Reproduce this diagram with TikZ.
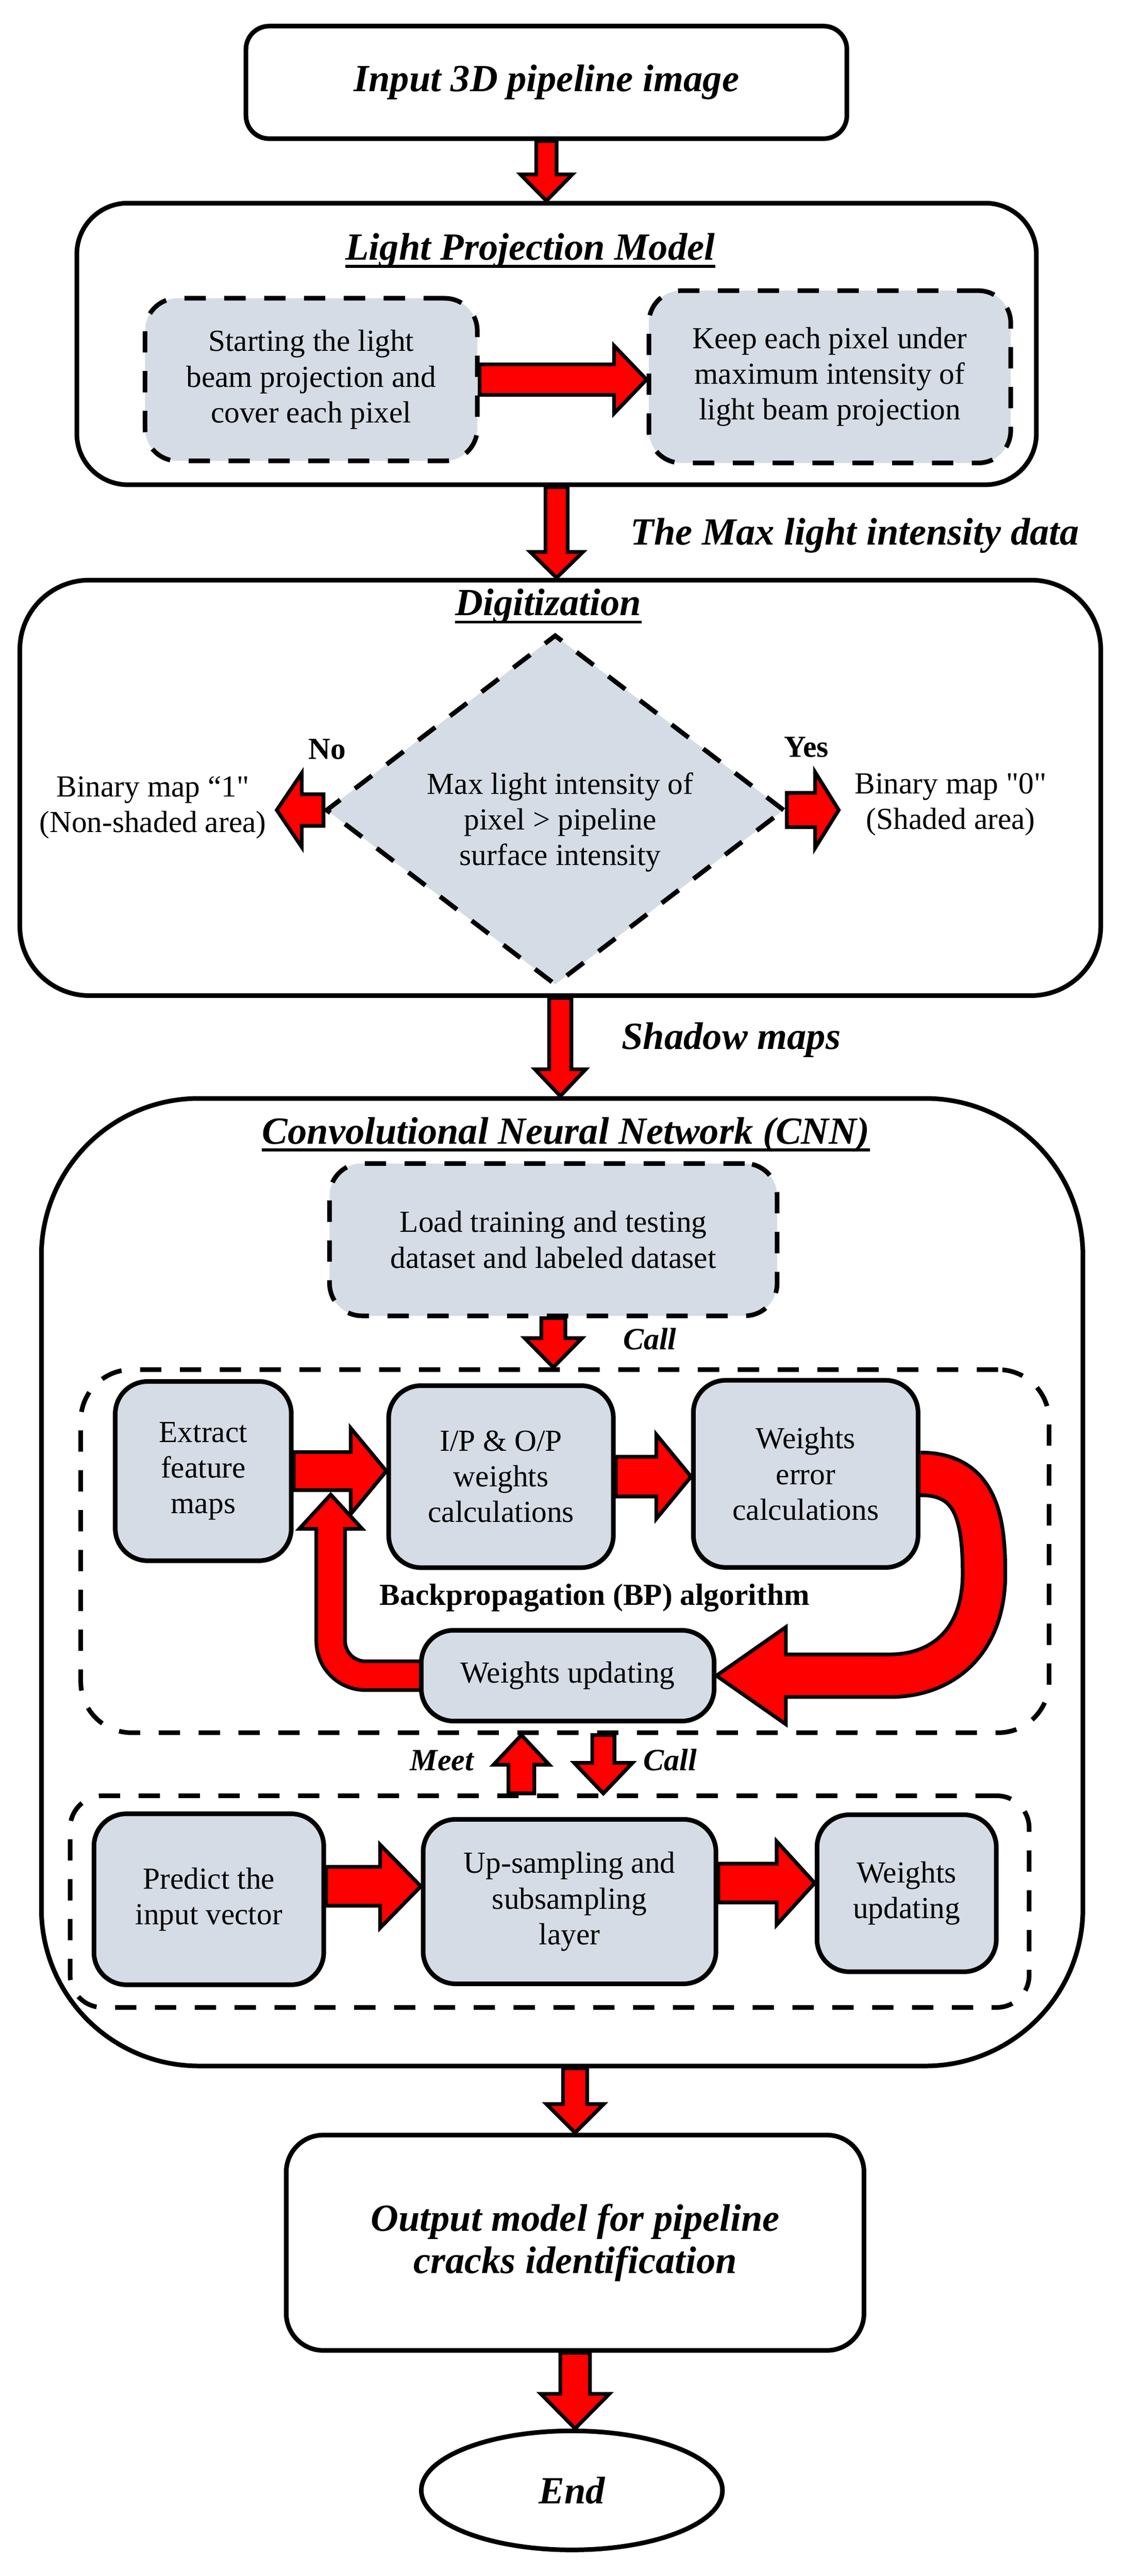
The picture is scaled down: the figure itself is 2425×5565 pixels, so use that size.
\documentclass[tikz,border=0pt]{standalone}
\usepackage{fontspec}
\setmainfont{Liberation Serif}[Ligatures=TeXOff]
\usetikzlibrary{calc,shapes.geometric}
\pgfdeclarelayer{bg}
\pgfsetlayers{bg,main}
\definecolor{boxfill}{HTML}{D6DCE5}
\newcommand{\ttlf}{\fontsize{23.6pt}{26.2pt}\selectfont\bfseries\itshape}
\newcommand{\bdyf}{\fontsize{18.8pt}{21.9pt}\selectfont}
\newcommand{\lblf}{\fontsize{19pt}{22pt}\selectfont\bfseries\itshape}
\newcommand{\bldf}{\fontsize{18.8pt}{21.9pt}\selectfont\bfseries}
% block arrow: #1 start, #2 tip, #3 shaft half width, #4 head half width, #5 head length
\newcommand{\barrow}[5]{%
  \coordinate (bh) at ($#2!#5!#1$);
  \filldraw[blk] ($#1!#3!90:#2$) -- ($(bh)!#3!90:#2$) -- ($(bh)!#4!90:#2$) -- #2
    -- ($(bh)!#4!-90:#2$) -- ($(bh)!#3!-90:#2$) -- ($#1!#3!-90:#2$) -- cycle;}
\begin{document}
\begin{tikzpicture}[x=0.01cm,y=-0.01cm,
  outerbox/.style={draw, line width=0.1cm, inner sep=0pt, align=center},
  solidbox/.style={draw, line width=0.1cm, rounded corners=0.7cm, fill=boxfill, inner sep=0pt, align=center, font=\bdyf},
  dashbox/.style={draw, line width=0.1cm, dash pattern=on 0.46cm off 0.4cm, rounded corners=0.7cm, fill=boxfill, inner sep=0pt, align=center, font=\bdyf},
  dashframe/.style={draw, line width=0.1cm, dash pattern=on 0.46cm off 0.4cm, rounded corners=1.1cm, inner sep=0pt},
  ttl/.style={font=\ttlf, inner sep=0pt},
  lbl/.style={font=\lblf, inner sep=0pt},
  bdy/.style={font=\bdyf, inner sep=0pt, align=center},
  blk/.style={fill=red, draw=black, line width=0.08cm, line join=miter},
  uline/.style={line width=0.065cm},
]
\useasboundingbox (0,0) rectangle (2425,5565);

% ---------- Input ----------
\node[outerbox, rounded corners=0.5cm, minimum width=12.97cm, minimum height=2.43cm, font=\ttlf] (input) at (1180,178) {Input 3D pipeline image};

% ---------- Light projection model ----------
\node[outerbox, rounded corners=1.1cm, minimum width=20.71cm, minimum height=6.08cm] (lpm) at (1202,743) {};
\node[ttl, anchor=base] (t1) at (1145,561) {Light Projection Model};
\draw[uline] ([yshift=-0.14cm]t1.base west) -- ([yshift=-0.14cm]t1.base east);
\node[dashbox, minimum width=7.17cm, minimum height=3.51cm] (ldash) at (672,820) {Starting the light\\beam projection and\\cover each pixel};
\node[dashbox, minimum width=7.81cm, minimum height=3.72cm] (rdash) at (1792,814) {Keep each pixel under\\maximum intensity of\\light beam projection};

\node[lbl, font=\ttlf, anchor=base west] (t2) at (1361,1177) {The Max light intensity data};

% ---------- Digitization ----------
\node[outerbox, rounded corners=1.5cm, minimum width=23.33cm, minimum height=8.97cm] (dig) at (1210,1702) {};
\node[ttl, anchor=base] (t3) at (1184,1330) {Digitization};
\draw[uline] ([yshift=-0.14cm]t3.base west) -- ([yshift=-0.14cm]t3.base east);
\node[diamond, draw, line width=0.1cm, dash pattern=on 0.46cm off 0.4cm, fill=boxfill, inner sep=0pt, minimum width=9.9cm, minimum height=7.57cm] (dmd) at (1199,1750) {};
\node[bdy] (dtext) at (1210,1776) {Max light intensity of\\pixel > pipeline\\surface intensity};
\node[font=\bldf, inner sep=0pt, anchor=base west] (nolbl) at (665,1640) {No};
\node[font=\bldf, inner sep=0pt, anchor=base west] (yeslbl) at (1693,1636) {Yes};
\node[bdy] (bin1) at (330,1745) {Binary map “1"\\(Non-shaded area)};
\node[bdy] (bin0) at (2053,1738) {Binary map "0"\\(Shaded area)};
\coordinate (notip) at ($(dmd.west)+(-101,0)$);
\coordinate (yestip) at ($(dmd.east)+(112,0)$);

\node[lbl, font=\ttlf, anchor=base west] (t4) at (1342,2267) {Shadow maps};

% ---------- CNN ----------
\node[outerbox, rounded corners=3.4cm, minimum width=22.48cm, minimum height=20.89cm] (cnn) at (1214,3418) {};
\node[ttl, anchor=base] (t5) at (1222,2471) {Convolutional Neural Network (CNN)};
\draw[uline] ([yshift=-0.13cm]t5.base west) -- ([yshift=-0.13cm]t5.base east);
\node[dashbox, minimum width=9.66cm, minimum height=3.29cm] (load) at (1195,2678) {Load training and testing\\dataset and labeled dataset};
\node[lbl, anchor=base west] (call1) at (1345,2916) {Call};

\node[dashframe, minimum width=20.90cm, minimum height=7.84cm] (bp) at (1220,3351) {};
\node[solidbox, minimum width=3.80cm, minimum height=3.87cm] (extract) at (439,3178) {Extract\\feature\\maps};
\node[solidbox, minimum width=4.85cm, minimum height=3.93cm] (ip) at (1082,3190) {I/P \& O/P\\weights\\calculations};
\node[solidbox, minimum width=4.85cm, minimum height=4.04cm] (we) at (1740,3184) {Weights\\error\\calculations};
\node[solidbox, minimum width=6.32cm, minimum height=1.96cm] (wu) at (1226,3620) {Weights updating};
\node[font=\bldf, inner sep=0pt, anchor=base] (bplbl) at (1284,3468) {Backpropagation (BP) algorithm};

\node[lbl, anchor=base west] (meetlbl) at (885,3825) {Meet};
\node[lbl, anchor=base west] (call2) at (1389,3825) {Call};

\node[dashframe, rounded corners=0.7cm, minimum width=20.70cm, minimum height=4.57cm] (lower) at (1187,4108) {};
\node[solidbox, minimum width=4.96cm, minimum height=3.69cm] (predict) at (451,4103) {Predict the\\input vector};
\node[solidbox, minimum width=6.32cm, minimum height=3.55cm] (up) at (1230,4108) {Up-sampling and\\subsampling\\layer};
\node[solidbox, minimum width=3.87cm, minimum height=3.39cm] (wu2) at (1958,4090) {Weights\\updating};

% ---------- Output and End ----------
\node[outerbox, rounded corners=0.8cm, minimum width=12.47cm, minimum height=4.65cm, font=\ttlf] (output) at (1242,4845) {Output model for pipeline\\cracks identification};
\node[ellipse, draw, line width=0.1cm, inner sep=0pt, minimum width=6.5cm, minimum height=2.57cm, font=\ttlf] (end) at (1235,5380) {End};

% ---------- Arrows ----------
\coordinate (uptip) at ($(extract.east)!0.4!(ip.west)+(0,46)$);
\coordinate (uhb) at ($(uptip)+(0,74)$);
\coordinate (hb) at ($(wu.east)+(150,0)$);
\coordinate (cw) at (2125,3400);
\coordinate (cend) at ($(hb)+(225,0)$);
\coordinate (meetS) at ($(lower.north)+(-61,0)$);
\coordinate (callS) at ($(bp.south)+(83,0)$);
\coordinate (pa) at ($(predict.east)+(0,-28)$);
\coordinate (ua) at ($(up.east)+(0,-40)$);

\begin{pgfonlayer}{bg}
\barrow{(input.south)}{(input.south |- lpm.north)}{0.22cm}{0.56cm}{0.57cm}
\barrow{(ldash.east)}{(ldash.east -| rdash.west)}{0.33cm}{0.73cm}{0.70cm}
\barrow{(lpm.south)}{(lpm.south |- dig.north)}{0.24cm}{0.57cm}{0.56cm}
\barrow{(dmd.west)}{(notip)}{0.34cm}{0.80cm}{0.54cm}
\barrow{(dmd.east)}{(yestip)}{0.37cm}{0.82cm}{0.51cm}
\barrow{(dig.south)}{(dig.south |- cnn.north)}{0.24cm}{0.55cm}{0.58cm}
\barrow{(load.south)}{(load.south |- bp.north)}{0.26cm}{0.62cm}{0.63cm}
\barrow{(extract.east)}{(extract.east -| ip.west)}{0.41cm}{0.93cm}{0.77cm}
\barrow{(ip.east)}{(ip.east -| we.west)}{0.43cm}{0.91cm}{0.75cm}
\barrow{(meetS)}{(meetS |- bp.south)}{0.28cm}{0.60cm}{0.64cm}
\barrow{(callS)}{(callS |- lower.north)}{0.24cm}{0.63cm}{0.66cm}
\barrow{(pa)}{(pa -| up.west)}{0.42cm}{0.90cm}{0.88cm}
\barrow{(ua)}{(ua -| wu2.west)}{0.42cm}{0.90cm}{0.82cm}
\barrow{(cnn.south -| output.north)}{(output.north)}{0.26cm}{0.62cm}{0.62cm}
\barrow{(output.south)}{(output.south |- end.north)}{0.32cm}{0.74cm}{0.75cm}
% curved arrow: weights error -> weights updating
\draw[line width=1.0cm, black] (we.east) .. controls +(120,0) and +(0,-120) .. (cw) .. controls +(0,150) and +(110,0) .. (cend) -- (hb);
\filldraw[blk] ($(hb)+(0,-105)$) -- (wu.east) -- ($(hb)+(0,105)$) -- cycle;
\draw[line width=0.84cm, red] (we.east) .. controls +(120,0) and +(0,-120) .. (cw) .. controls +(0,150) and +(110,0) .. (cend) -- (hb) -- ($(hb)+(-14,0)$);
% L-shaped arrow: weights updating -> extract feature maps
\draw[line width=0.70cm, black, rounded corners=0.75cm] (wu.west) -- (uhb |- wu.west) -- (uhb);
\filldraw[blk] ($(uhb)+(-68,0)$) -- (uptip) -- ($(uhb)+(68,0)$) -- cycle;
\draw[line width=0.54cm, red, rounded corners=0.75cm] (wu.west) -- (uhb |- wu.west) -- ($(uhb)+(0,-12)$);
\end{pgfonlayer}
\end{tikzpicture}
\end{document}
